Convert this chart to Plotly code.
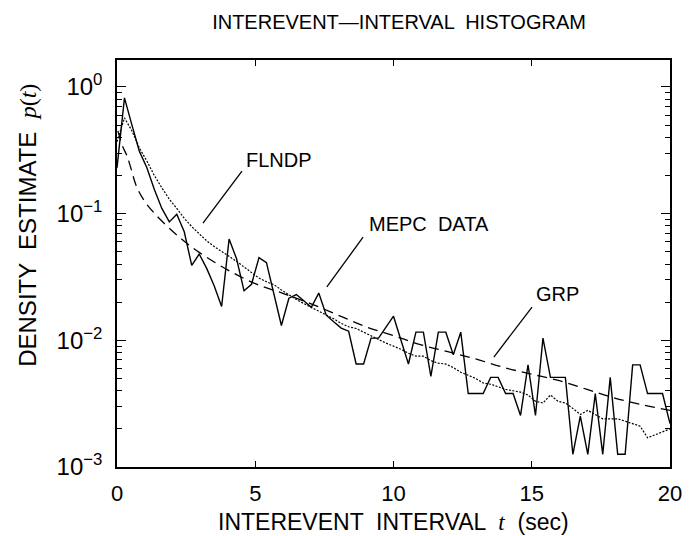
import numpy as np
import plotly.graph_objects as go

# Histogram bin positions (seconds) and the measured MEPC interval density
t_bins = np.linspace(0, 20, 75)
mepc_density = [
    0.23, 0.82, 0.50, 0.31, 0.23, 0.155, 0.11, 0.086, 0.099, 0.072,
    0.039, 0.048, 0.037, 0.027, 0.0185, 0.063, 0.044, 0.0246, 0.0277, 0.045,
    0.041, 0.023, 0.0131, 0.0215, 0.023, 0.0205, 0.0182, 0.0236, 0.0158, 0.0140,
    0.0125, 0.0118, 0.0065, 0.0065, 0.0104, 0.0104, 0.0127, 0.0155, 0.0100, 0.0065,
    0.0116, 0.0116, 0.0052, 0.0116, 0.0116, 0.0077, 0.0116, 0.0038, 0.0038, 0.0038,
    0.0051, 0.0051, 0.0038, 0.0038, 0.00255, 0.0064, 0.00255, 0.0104, 0.0051, 0.0051,
    0.0051, 0.00126, 0.00252, 0.00126, 0.0038, 0.00126, 0.0051, 0.00126, 0.00126, 0.0064,
    0.0064, 0.0038, 0.0038, 0.0038, 0.0022,
]

# Simulated FLNDP model density on the same bins
flndp_density = [
    0.37, 0.57, 0.45, 0.33, 0.26, 0.20, 0.16, 0.13, 0.11, 0.092,
    0.079, 0.069, 0.061, 0.055, 0.050, 0.046, 0.042, 0.038, 0.034, 0.031,
    0.029, 0.0275, 0.025, 0.0228, 0.021, 0.0195, 0.0182, 0.0170, 0.0158, 0.0148,
    0.0136, 0.0128, 0.0124, 0.0116, 0.0107, 0.0101, 0.0095, 0.0090, 0.0085, 0.0079,
    0.0075, 0.0075, 0.0069, 0.0066, 0.0065, 0.0061, 0.0056, 0.0053, 0.0050, 0.0046,
    0.0045, 0.0043, 0.0041, 0.0040, 0.0039, 0.0037, 0.0033, 0.0032, 0.0037, 0.0033,
    0.0032, 0.0029, 0.0026, 0.0028, 0.0026, 0.0024, 0.0024, 0.0024, 0.0023, 0.0022,
    0.0021, 0.0017, 0.0018, 0.0019, 0.0020,
]

# GRP model curve
grp_t = [0.03, 0.1, 0.2, 0.35, 0.5, 0.7, 1.0, 1.4, 2.0, 2.5, 3.0, 4.0, 5.0, 6.0,
         7.0, 8.0, 9.0, 10.0, 11.0, 12.0, 13.0, 14.0, 15.0, 16.0, 17.0, 18.0, 19.0, 20.0]
grp_density = [0.45, 0.40, 0.34, 0.29, 0.23, 0.165, 0.125, 0.098, 0.073, 0.059, 0.049,
               0.036, 0.0280, 0.0235, 0.0195, 0.0158, 0.0128, 0.0109, 0.0092, 0.0081,
               0.0071, 0.0061, 0.0054, 0.0048, 0.0041, 0.0035, 0.0031, 0.0028]

x_ticks = [0, 5, 10, 15, 20]
y_ticks = [1e-3, 1e-2, 1e-1, 1.0]
y_tick_text = ["10<sup>−3</sup>", "10<sup>−2</sup>", "10<sup>−1</sup>", "10<sup>0</sup>"]
y_minor = [m * 10.0 ** e for e in (-3, -2, -1) for m in range(2, 10)]

# Curve labels: text, text position, pointer start, pointer end, as (t, p)
curve_labels = [
    ("FLNDP", (5.86, 0.265), (4.52, 0.217), (3.11, 0.0843)),
    ("MEPC  DATA", (11.28, 0.0828), (8.90, 0.0653), (7.59, 0.0264)),
    ("GRP", (15.93, 0.0232), (15.01, 0.0183), (13.63, 0.00738)),
]

FONT = "Liberation Sans"
MATH = "Liberation Serif"

fig = go.Figure()
fig.add_trace(go.Scatter(x=grp_t, y=grp_density, mode="lines", line_shape="spline",
                         line=dict(color="black", width=1.3, dash="10px,6px")))
fig.add_trace(go.Scatter(x=t_bins, y=flndp_density, mode="lines",
                         line=dict(color="black", width=1.2, dash="2px,1.5px")))
fig.add_trace(go.Scatter(x=t_bins, y=mepc_density, mode="lines",
                         line=dict(color="black", width=1.4)))

for text, (tx, ty), (x0, y0), (x1, y1) in curve_labels:
    fig.add_annotation(x=tx, y=np.log10(ty), xref="x", yref="y", text=text,
                       showarrow=False, xanchor="center", yanchor="middle",
                       font=dict(family=FONT, size=20, color="black"))
    fig.add_trace(go.Scatter(x=[x0, x1], y=[y0, y1], mode="lines",
                             line=dict(color="black", width=1.3)))

fig.add_annotation(
    x=0.5, y=-0.135, xref="paper", yref="paper", showarrow=False,
    xanchor="center", yanchor="middle",
    text=f"INTEREVENT  INTERVAL  <span style=\"font-family:{MATH}\"><i>t</i></span>  (sec)",
    font=dict(family=FONT, size=23, color="black"))
fig.add_annotation(
    x=-0.161, y=0.595, xref="paper", yref="paper", showarrow=False, textangle=-90,
    xanchor="center", yanchor="middle",
    text=f"DENSITY  ESTIMATE  <span style=\"font-family:{MATH}\"><i>p</i>(<i>t</i>)</span>",
    font=dict(family=FONT, size=24, color="black"))

fig.update_layout(
    width=694, height=536,
    margin=dict(l=117, r=24, t=60, b=69),
    paper_bgcolor="white", plot_bgcolor="white",
    showlegend=False,
    title=dict(text="INTEREVENT—INTERVAL  HISTOGRAM", x=0.575, xanchor="center",
               y=1 - 21.7 / 536, yanchor="middle",
               font=dict(family=FONT, size=20, color="black")),
    font=dict(family=FONT, size=20, color="black"),
)
fig.update_xaxes(
    range=[0, 20], tickmode="array", tickvals=x_ticks,
    ticks="inside", ticklen=6, tickwidth=1.3, tickcolor="black",
    showline=True, linecolor="black", linewidth=1.5, mirror="ticks",
    showgrid=False, zeroline=False, ticklabelstandoff=6,
    tickfont=dict(family=FONT, size=22, color="black"),
)
fig.update_yaxes(
    type="log", range=[-3, 0.213], tickmode="array", tickvals=y_ticks,
    ticktext=y_tick_text,
    ticks="inside", ticklen=9, tickwidth=1.3, tickcolor="black",
    minor=dict(tickmode="array", tickvals=y_minor, ticks="inside", ticklen=5,
               tickwidth=1, tickcolor="black", showgrid=False),
    showline=True, linecolor="black", linewidth=1.5, mirror="ticks",
    showgrid=False, zeroline=False, ticklabelstandoff=8,
    tickfont=dict(family=FONT, size=24, color="black"),
)

fig.write_html("out.html")
